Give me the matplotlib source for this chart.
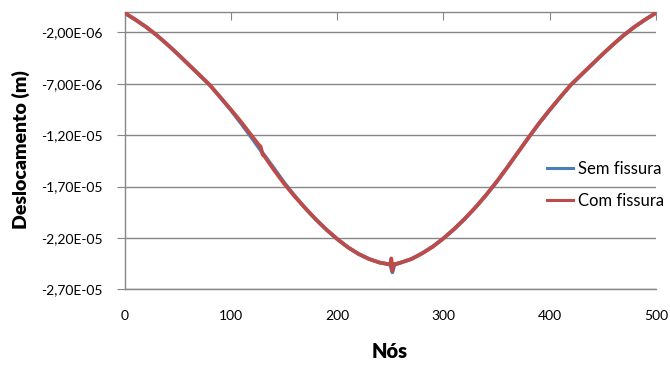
import matplotlib
matplotlib.use("Agg")
import matplotlib.pyplot as plt
from matplotlib.lines import Line2D
from matplotlib.ticker import FixedLocator, FuncFormatter

# Nodal displacement (units of 1e-6 m, downward negative)
nos_sem = [0, 10, 20, 30, 40, 50, 60, 70, 80, 90, 100, 110, 120, 130, 140,
           150, 160, 170, 180, 190, 200, 210, 220, 230, 240, 248, 250, 252,
           254, 256, 260, 270, 280, 290, 300, 310, 320, 330, 340, 350, 360,
           370, 380, 390, 400, 410, 420, 430, 440, 450, 460, 470, 480, 490, 500]
desl_sem = [-0.1, -0.75, -1.45, -2.25, -3.15, -4.1, -5.1, -6.1, -7.1, -8.3,
            -9.55, -10.9, -12.3, -13.75, -15.15, -16.6, -17.9, -19.1, -20.2,
            -21.2, -22.1, -22.9, -23.55, -24.05, -24.4, -24.55, -24.6, -25.35,
            -24.6, -24.55, -24.4, -24.05, -23.5, -22.85, -22.05, -21.15,
            -20.15, -19.05, -17.85, -16.55, -15.15, -13.7, -12.25, -10.85,
            -9.55, -8.3, -7.1, -6.1, -5.1, -4.1, -3.15, -2.25, -1.45, -0.75, -0.1]

nos_com = [0, 10, 20, 30, 40, 50, 60, 70, 80, 90, 100, 110, 120, 126, 128,
           130, 132, 140, 150, 160, 170, 180, 190, 200, 210, 220, 230, 240,
           248, 250, 251, 252, 253, 254, 256, 260, 270, 280, 290, 300, 310,
           320, 330, 340, 350, 360, 370, 380, 390, 400, 410, 420, 430, 440,
           450, 460, 470, 480, 490, 500]
desl_com = [-0.1, -0.75, -1.45, -2.25, -3.15, -4.1, -5.1, -6.1, -7.1, -8.3,
            -9.5, -10.75, -12.1, -12.9, -13.1, -13.9, -14.1, -15.3, -16.7,
            -17.95, -19.1, -20.2, -21.2, -22.1, -22.9, -23.55, -24.05, -24.4,
            -24.55, -24.6, -24.0, -25.2, -24.6, -24.55, -24.5, -24.4, -24.05,
            -23.5, -22.85, -22.05, -21.15, -20.15, -19.05, -17.85, -16.55,
            -15.15, -13.7, -12.25, -10.85, -9.55, -8.3, -7.1, -6.1, -5.1,
            -4.1, -3.15, -2.25, -1.45, -0.75, -0.1]

escala = 1e-6
y_ticks = [-2.0e-6, -7.0e-6, -1.2e-5, -1.7e-5, -2.2e-5, -2.7e-5]
x_ticks = [0, 100, 200, 300, 400, 500]
series_labels = ["Sem fissura", "Com fissura"]

BLUE = "#4A7EBB"
RED = "#BE4B48"
GRID = "#878787"

plt.rcParams["font.family"] = ["Lato", "DejaVu Sans"]

fig = plt.figure(figsize=(6.70, 3.69), dpi=100)
ax = fig.add_axes([124.5 / 670, 1 - 289.3 / 369, (656 - 124.5) / 670,
                   (289.3 - 11.8) / 369])

ax.plot(nos_sem, [v * escala for v in desl_sem], color=BLUE, lw=2.7,
        solid_joinstyle="round", zorder=3)
ax.plot(nos_com, [v * escala for v in desl_com], color=RED, lw=2.7,
        solid_joinstyle="round", zorder=4)

ax.set_xlim(0, 500)
ax.set_ylim(-2.7e-5, 0)

ax.yaxis.set_major_locator(FixedLocator(y_ticks))
ax.yaxis.set_major_formatter(
    FuncFormatter(lambda v, p: f"{v:.2E}".replace(".", ",")))
ax.xaxis.set_major_locator(FixedLocator(x_ticks))
ax.xaxis.set_major_formatter(FuncFormatter(lambda v, p: f"{v:.0f}"))

ax.grid(axis="y", color=GRID, lw=1.0, zorder=0)
ax.grid(axis="x", visible=False)

ax.spines["right"].set_visible(False)
for side in ("left", "top", "bottom"):
    ax.spines[side].set_color(GRID)
    ax.spines[side].set_linewidth(1.0)

ax.tick_params(axis="y", direction="out", length=5.5, color=GRID,
               labelsize=10, pad=10, labelcolor="black")
ax.tick_params(axis="x", direction="in", length=6, color=GRID,
               top=True, bottom=False, labeltop=False, labelbottom=True,
               labelsize=10, pad=15, labelcolor="black")

fig.text(390 / 670, 1 - 352 / 369, "Nós", ha="center", va="center",
         fontsize=14.5, fontweight="heavy")
fig.text(21 / 670, 1 - 150 / 369, "Deslocamento (m)", ha="center",
         va="center", rotation=90, fontsize=14, fontweight="heavy")

handles = [Line2D([], [], color=BLUE, lw=2.2),
           Line2D([], [], color=RED, lw=2.2)]
fig.legend(handles, series_labels, loc="upper left",
           bbox_to_anchor=(547 / 670, 1 - 161 / 369),
           bbox_transform=fig.transFigure, frameon=False, fontsize=12,
           handlelength=1.55, handletextpad=0.3, labelspacing=0.95,
           borderpad=0, borderaxespad=0)

fig.savefig("out.png", dpi=100)
